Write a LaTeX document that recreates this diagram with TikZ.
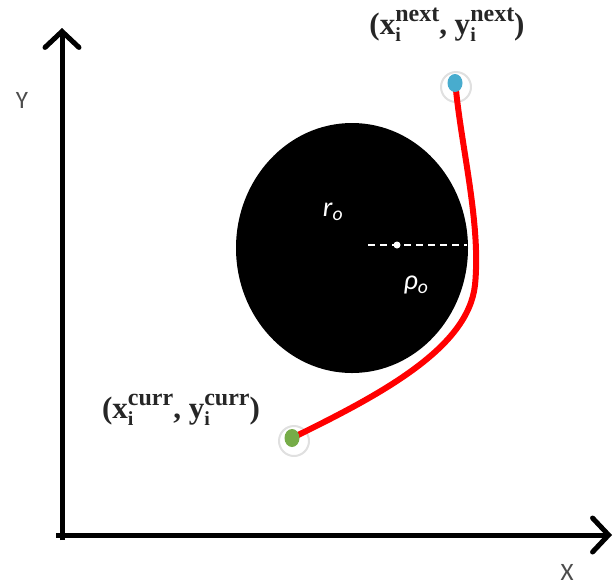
\documentclass[tikz,border=0pt]{standalone}
\usepackage{fontspec}
\setmainfont{Liberation Serif}
\newfontfamily\calfont{Carlito}
\usetikzlibrary{arrows.meta,shapes.geometric}
\newcommand{\xsupsub}[2]{\rlap{\raisebox{-0.22em}{\fontsize{20}{21}\selectfont #1}}\raisebox{0.42em}{\fontsize{24}{25}\selectfont #2}}
\definecolor{ptgreen}{RGB}{118,172,72}
\definecolor{ptblue}{RGB}{72,172,206}
\tikzset{
  axis/.style={line width=5pt, -{Straight Barb[length=16pt,width=34pt,line cap=round]}},
  halo/.style={circle, fill=white, draw=black!12, line width=2pt, minimum size=30pt, inner sep=0pt},
  dotg/.style={ellipse, fill=#1, minimum width=15pt, minimum height=18pt, inner sep=0pt},
  coordlabel/.style={font=\fontsize{31}{34}\selectfont\bfseries, text=black!85, inner sep=0pt},
  axlabel/.style={font=\calfont\fontsize{25}{27}\selectfont, text=black!70, inner sep=0pt},
  whitelabel/.style={font=\calfont\itshape\fontsize{28}{30}\selectfont, text=white, inner sep=0pt},
  path/.style={red, line width=6pt, line cap=round}
}
\begin{document}
\begin{tikzpicture}[x=1pt,y=-1pt]
\useasboundingbox (0,0) rectangle (616,587);
% obstacle
\node[ellipse, fill=black, minimum width=232pt, minimum height=250pt, inner sep=0pt] (obs) at (352,248) {};
\coordinate (c0) at (368,245);
\coordinate (c1) at (467,245);
\draw[white, line width=1.6pt, dash pattern=on 7pt off 5pt] (c0) -- (c1);
\node[circle, fill=white, minimum size=7pt, inner sep=0pt] (ctr) at (397,245) {};
\node[whitelabel] (ro) at (333,212) {r\textsubscript{o}};
\node[whitelabel] (rho) at (416,285) {ρ\textsubscript{o}};
% axes
\coordinate (ytip) at (62,28);
\coordinate (xtip) at (612,535);
\coordinate (ostart) at (62,540);
\coordinate (xstart) at (56,535);
\draw[axis] (ostart) -- (ytip);
\draw[axis] (xstart) -- (xtip);
\node[axlabel] (ylab) at (22,100) {Y};
\node[axlabel] (xlab) at (567,572) {X};
% points
\node[halo] (hc) at (294,441) {};
\node[halo] (hn) at (456,87) {};
\coordinate (mid) at (475,285);
\draw[path] (292,438) .. controls (382,394) and (468,348) .. (mid)
  .. controls (481,225) and (462,150) .. (456,90);
\node[dotg=ptgreen] (curr) at (292,438) {};
\node[dotg=ptblue] (next) at (455,83) {};
% labels
\node[coordlabel] (lnext) at (447,25) {(x\xsupsub{i}{next}, y\xsupsub{i}{next})};
\node[coordlabel] (lcurr) at (181,410) {(x\xsupsub{i}{curr}, y\xsupsub{i}{curr})};
\end{tikzpicture}
\end{document}
